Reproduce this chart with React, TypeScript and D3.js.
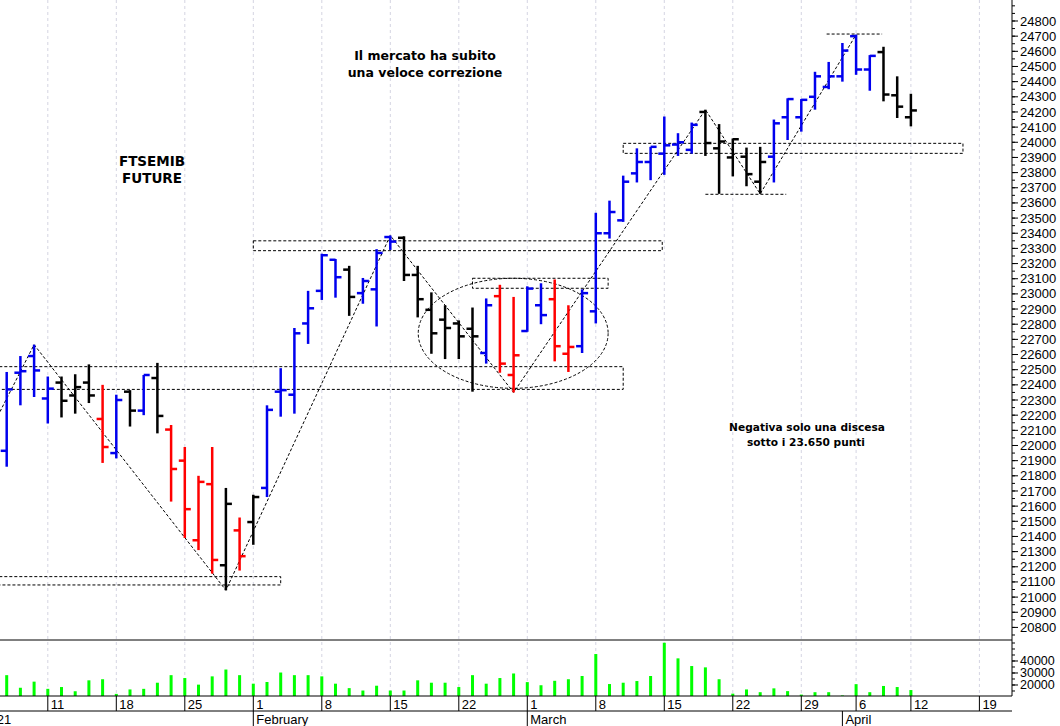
import React from 'react';
import * as d3 from 'd3';

// ---- DATA ----
const dates = [
  "2021-01-06","2021-01-07","2021-01-08","2021-01-11","2021-01-12","2021-01-13","2021-01-14","2021-01-15",
  "2021-01-18","2021-01-19","2021-01-20","2021-01-21","2021-01-22","2021-01-25","2021-01-26","2021-01-27",
  "2021-01-28","2021-01-29","2021-02-01","2021-02-02","2021-02-03","2021-02-04","2021-02-05","2021-02-08",
  "2021-02-09","2021-02-10","2021-02-11","2021-02-12","2021-02-15","2021-02-16","2021-02-17","2021-02-18",
  "2021-02-19","2021-02-22","2021-02-23","2021-02-24","2021-02-25","2021-02-26","2021-03-01","2021-03-02",
  "2021-03-03","2021-03-04","2021-03-05","2021-03-08","2021-03-09","2021-03-10","2021-03-11","2021-03-12",
  "2021-03-15","2021-03-16","2021-03-17","2021-03-18","2021-03-19","2021-03-22","2021-03-23","2021-03-24",
  "2021-03-25","2021-03-26","2021-03-29","2021-03-30","2021-03-31","2021-04-01","2021-04-06","2021-04-07",
  "2021-04-08","2021-04-09","2021-04-12"
];
const futureDates = ["2021-04-13","2021-04-14","2021-04-15","2021-04-16","2021-04-19","2021-04-20","2021-04-21","2021-04-22","2021-04-23"];

const opens = [
  21965,22480,22590,22310,22415,22330,22415,22175,21950,22355,22230,22445,22105,21900,21375,21745,
  21210,21440,21495,21720,22355,22335,22805,23020,23225,23160,23005,23030,23375,23370,23125,22895,
  22830,22805,22770,22610,22985,22465,22755,22925,22965,22605,22655,22885,23400,23485,23795,23870,
  23925,23985,23950,24200,23960,23900,23905,23740,23905,24165,24165,24300,24365,24435,24700,24480,
  24595,24310,24165
];
const highs = [
  22485,22590,22665,22455,22455,22470,22535,22400,22335,22365,22465,22545,22135,21990,21800,21990,
  21720,21525,21675,22265,22510,22775,23020,23265,23230,23185,23105,23295,23385,23380,23185,23010,
  22925,22825,22910,22970,23060,22980,23050,23070,23095,22925,23030,23535,23615,23780,23960,23970,
  24170,24060,24130,24215,24120,24025,23965,23970,24150,24290,24285,24465,24530,24655,24710,24575,
  24630,24435,24320
];
const lows = [
  21860,22265,22320,22145,22185,22210,22280,21885,21915,22125,22200,22080,21630,21390,21310,21155,
  21045,21175,21345,21660,22190,22210,22670,22960,22975,22855,22935,22785,23290,23085,22845,22605,
  22570,22570,22355,22540,22480,22350,22750,22800,22555,22485,22610,22805,23365,23475,23735,23750,
  23785,23910,23925,23910,23660,23775,23710,23660,23735,24015,24070,24215,24350,24400,24445,24340,
  24270,24160,24105
];
const closes = [
  22370,22490,22495,22375,22295,22385,22330,21990,22300,22230,22465,22195,21845,21580,21760,21245,
  21615,21270,21660,22235,22365,22740,22905,23255,23110,22980,23085,23270,23345,23125,22965,22740,
  22775,22720,22720,22925,22540,22595,23035,22860,22655,22650,23005,23400,23540,23740,23870,23970,
  23980,24000,24115,23995,24005,24020,23790,23870,24125,24285,24280,24435,24435,24605,24480,24570,
  24315,24235,24210
];
// b = blue, k = black, r = red
const barColors = [
  "b","b","b","b","k","k","k","r","b","k","b","k","r","r","r","r",
  "k","r","k","b","b","b","b","b","b","k","b","b","b","k","k","k",
  "k","k","k","b","r","r","b","b","r","r","b","b","b","b","b","b",
  "b","b","b","k","k","k","k","k","b","b","b","b","b","b","b","b",
  "k","k","k"
];
const volumes = [
  28200,17700,22800,16800,18300,14800,23900,24800,12600,16300,16800,21900,28200,25800,20300,27200,
  32900,28200,21100,22500,30400,28200,28200,27200,21100,17400,15400,19400,15400,15400,23900,21900,
  21900,18300,28200,21100,25800,29600,22400,19800,23500,24800,27500,45800,20800,21900,23300,27500,
  55200,42200,35800,34700,24800,12800,16300,14000,17200,14900,12000,14000,14000,11300,20700,14000,
  19200,18300,15800
];

const priceTicks = d3.range(20800, 24801, 100);
const priceMinorTicks = d3.range(20750, 24901, 50);
const volumeTicks = [20000, 30000, 40000];
const volumeMinorTicks = d3.range(15000, 55001, 5000);
const monthNames = ["2021", "February", "March", "April", "May"];

// annotation boxes: [startIndex, endIndex, priceTop, priceBottom]
const bandStart = [-2, 18, -2, 34, 45];
const bandEnd = [45, 47.85, 20, 43.9, 69.8];
const bandTop = [22520, 23350, 21135, 23103, 23993];
const bandBottom = [22370, 23285, 21080, 23037, 23927];
// single dashed levels
const levelStart = [51, 59.85];
const levelEnd = [56.9, 63.9];
const levelPrice = [23657, 24714];
// zig-zag trend line (index, price)
const zigIndex = [-0.49, 2, 16, 28, 37, 51, 55, 62];
const zigPrice = [22223, 22665, 21045, 23385, 22350, 24215, 23660, 24710];
// ellipse: index range and price range
const ellipseIdx = [30.04, 43.9];
const ellipsePrice = [22377, 23103];

const colorMap: Record<string, string> = { b: "#0000ee", k: "#000000", r: "#ff0000" };

export default function App() {
  const W = 1060, H = 726;
  const axisX = 1012;
  const priceBottom = 640;
  const volBase = 696;
  const dayRowBottom = 711;

  const x = d3.scaleLinear().domain([-0.489, 73.38]).range([0, axisX]);
  const y = d3.scaleLinear().domain([20717, 24938.5]).range([priceBottom, 0]);
  const yv = d3.scaleLinear().domain([10833, 57500]).range([volBase, priceBottom]);

  const allDates = dates.concat(futureDates).map(s => new Date(s + "T00:00:00"));
  const weekTicks: number[] = [];
  const monthTicks: number[] = [-2];
  allDates.forEach((d, i) => {
    if (i === 0) return;
    const p = allDates[i - 1];
    if (d.getDay() < p.getDay() || (d.getTime() - p.getTime()) > 5 * 86400000) weekTicks.push(i);
    if (d.getMonth() !== p.getMonth()) monthTicks.push(i);
  });

  const font = "'Liberation Sans', Arial, sans-serif";
  const boldFont = "'DejaVu Sans', Verdana, sans-serif";
  const dash = "3,2";

  const zigLine = d3.line<number>()
    .x((_, i) => x(zigIndex[i]))
    .y((_, i) => y(zigPrice[i]));

  const ex0 = x(ellipseIdx[0]), ex1 = x(ellipseIdx[1]);
  const ey0 = y(ellipsePrice[1]), ey1 = y(ellipsePrice[0]);

  return (
    <svg width={W} height={H} style={{ position: 'absolute', left: 0, top: 0, background: '#fff' }}>
      <defs>
        <clipPath id="pclip"><rect x={0} y={0} width={axisX} height={priceBottom} /></clipPath>
      </defs>
      <rect x={0} y={0} width={W} height={H} fill="#fff" />

      {/* grid */}
      {weekTicks.map(i => (
        <line key={'g' + i} x1={x(i)} x2={x(i)} y1={0} y2={volBase} stroke="#d4d4e2" strokeWidth={1} strokeDasharray="3,3" />
      ))}

      {/* annotations */}
      <g clipPath="url(#pclip)" fill="none" stroke="#000" strokeWidth={1} strokeDasharray={dash}>
        {bandStart.map((s, k) => (
          <rect key={'b' + k} x={x(s)} y={y(bandTop[k])} width={x(bandEnd[k]) - x(s)} height={y(bandBottom[k]) - y(bandTop[k])} />
        ))}
        {levelStart.map((s, k) => (
          <line key={'l' + k} x1={x(s)} x2={x(levelEnd[k])} y1={y(levelPrice[k])} y2={y(levelPrice[k])} />
        ))}
        <path d={zigLine(zigIndex) || ''} />
        <ellipse cx={(ex0 + ex1) / 2} cy={(ey0 + ey1) / 2} rx={(ex1 - ex0) / 2} ry={(ey1 - ey0) / 2} />
      </g>

      {/* OHLC bars */}
      <g clipPath="url(#pclip)">
        {dates.map((_, i) => {
          const c = colorMap[barColors[i]];
          const cx = x(i);
          return (
            <g key={'bar' + i} stroke={c} strokeWidth={2.5}>
              <line x1={cx} x2={cx} y1={y(highs[i])} y2={y(lows[i])} />
              <line x1={cx - 6} x2={cx} y1={y(opens[i])} y2={y(opens[i])} />
              <line x1={cx} x2={cx + 6} y1={y(closes[i])} y2={y(closes[i])} />
            </g>
          );
        })}
      </g>

      {/* volume */}
      {volumes.map((v, i) => (
        <rect key={'v' + i} x={x(i) - 1.5} y={yv(v)} width={3} height={volBase - yv(v)} fill="#00ff00" />
      ))}

      {/* frame lines */}
      <line x1={0} x2={axisX} y1={priceBottom} y2={priceBottom} stroke="#000" />
      <line x1={0} x2={axisX} y1={volBase} y2={volBase} stroke="#000" />
      <line x1={0} x2={axisX} y1={dayRowBottom} y2={dayRowBottom} stroke="#000" />
      <line x1={axisX} x2={axisX} y1={0} y2={volBase} stroke="#000" />

      {/* price axis */}
      {priceMinorTicks.map(p => (
        <line key={'pm' + p} x1={axisX} x2={axisX + 3} y1={y(p)} y2={y(p)} stroke="#000" />
      ))}
      {priceTicks.map(p => (
        <g key={'pt' + p}>
          <line x1={axisX} x2={axisX + 6} y1={y(p)} y2={y(p)} stroke="#000" />
          <text x={axisX + 8} y={y(p)} dy="0.35em" fontFamily={font} fontSize={13} fill="#000">{p}</text>
        </g>
      ))}

      {/* volume axis */}
      {volumeMinorTicks.map(v => (
        <line key={'vm' + v} x1={axisX} x2={axisX + 3} y1={yv(v)} y2={yv(v)} stroke="#000" />
      ))}
      {volumeTicks.map(v => (
        <g key={'vt' + v}>
          <line x1={axisX} x2={axisX + 6} y1={yv(v)} y2={yv(v)} stroke="#000" />
          <text x={axisX + 8} y={yv(v)} dy="0.35em" fontFamily={font} fontSize={12.5} fill="#000">{v}</text>
        </g>
      ))}

      {/* date axis */}
      {weekTicks.map(i => (
        <g key={'w' + i}>
          <line x1={x(i)} x2={x(i)} y1={volBase} y2={dayRowBottom} stroke="#000" />
          <text x={x(i) + 3} y={dayRowBottom - 2} fontFamily={font} fontSize={13} fill="#000">{allDates[i].getDate()}</text>
        </g>
      ))}
      {monthTicks.map((i, k) => (
        <g key={'m' + i}>
          <line x1={x(i)} x2={x(i)} y1={dayRowBottom} y2={H} stroke="#000" />
          <text x={x(i) + 3} y={H - 2} fontFamily={font} fontSize={13} fill="#000">{monthNames[k]}</text>
        </g>
      ))}

      {/* text annotations */}
      <g fontFamily={boldFont} fontWeight="bold" fill="#000" textAnchor="middle">
        <text x={152} y={166} fontSize={13.5}>FTSEMIB</text>
        <text x={152} y={183} fontSize={13.5}>FUTURE</text>
        <text x={425} y={60} fontSize={12.5}>Il mercato ha subito</text>
        <text x={425} y={77} fontSize={12.5}>una veloce correzione</text>
        <text x={807} y={431} fontSize={10.6}>Negativa solo una discesa</text>
        <text x={806} y={446} fontSize={10.6}>sotto i 23.650 punti</text>
      </g>
    </svg>
  );
}
